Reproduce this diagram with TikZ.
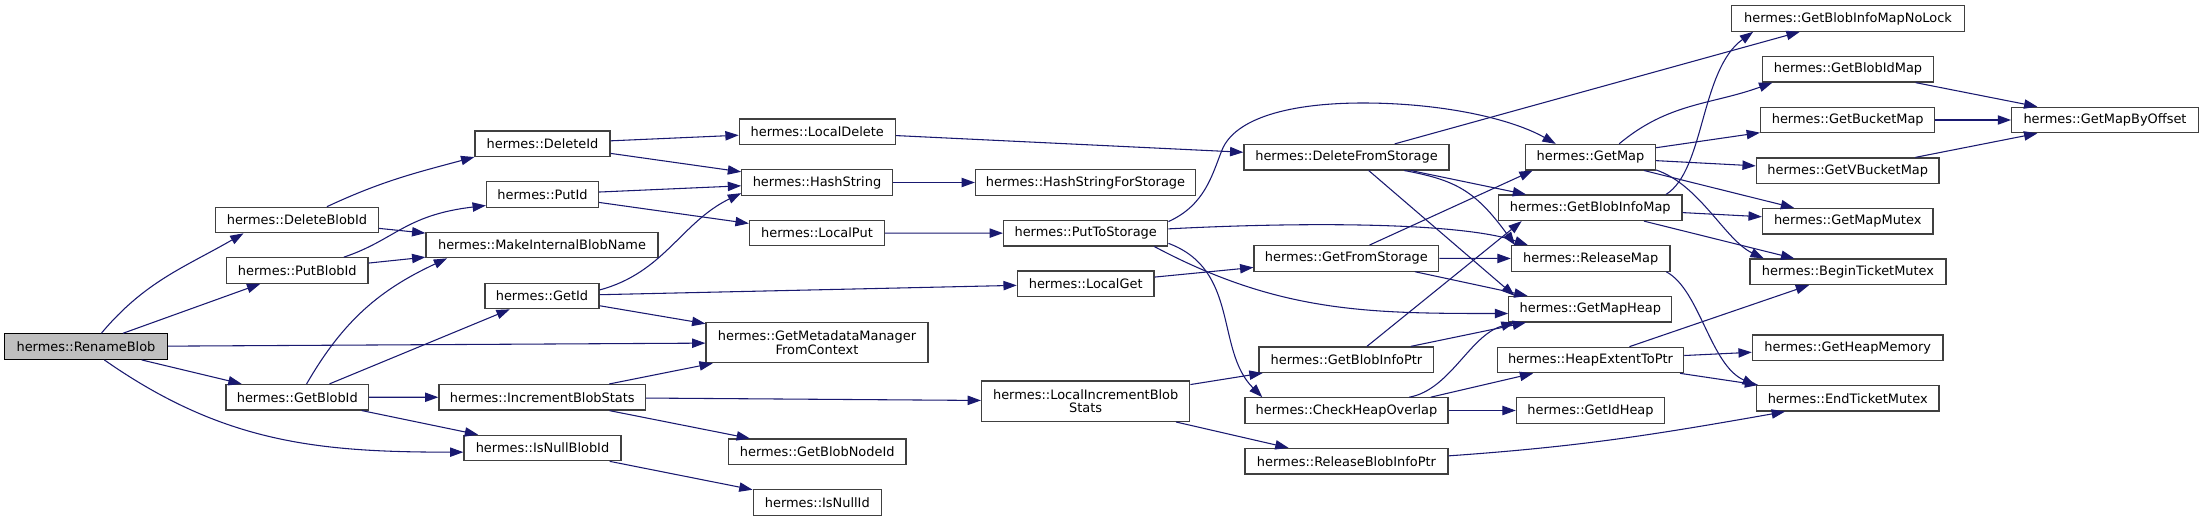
\documentclass[tikz,border=0pt]{standalone}
\usepackage{fontspec}
\setmainfont{DejaVu Sans}
\usepackage{xcolor}
\definecolor{callblue}{HTML}{191970}
\definecolor{rootgray}{HTML}{BFBFBF}
\definecolor{boxline}{HTML}{404040}
\usepackage{tikz}
\usetikzlibrary{arrows.meta}

\begin{document}
\begin{tikzpicture}[
  x=0.75pt, y=0.75pt,
  font=\fontsize{9.7pt}{10.3pt}\selectfont,
  fn/.style={draw=boxline, line width=0.9pt, fill=white, align=center, inner xsep=3pt, inner ysep=0pt, minimum height=19.1pt},
  root/.style={fn, draw=black, fill=rootgray},
  arr/.style={-{Triangle[length=10pt, width=7pt]}, line width=0.8pt, color=callblue},
]
  \path[use as bounding box, fill=white] (0,0) rectangle (2204,-521);

  \node[root, minimum width=122.3pt] (RenameBlob) at (86,-346.6) {hermes::RenameBlob};
  \node[fn, minimum width=122.1pt] (DeleteBlobId) at (297,-220) {hermes::DeleteBlobId};
  \node[fn, minimum width=106.1pt] (PutBlobId) at (297.3,-270.5) {hermes::PutBlobId};
  \node[fn, minimum width=107pt] (GetBlobId) at (297.3,-397.2) {hermes::GetBlobId};
  \node[fn, minimum width=101.3pt] (DeleteId) at (542.5,-143.8) {hermes::DeleteId};
  \node[fn, minimum width=84pt] (PutId) at (542.5,-194.5) {hermes::PutId};
  \node[fn, minimum width=174pt] (MakeInternalBlobName) at (542,-245) {hermes::MakeInternalBlobName};
  \node[fn, minimum width=85.5pt] (GetId) at (542,-296) {hermes::GetId};
  \node[fn, minimum width=155pt] (IncrementBlobStats) at (542.3,-397.3) {hermes::IncrementBlobStats};
  \node[fn, minimum width=117.8pt] (IsNullBlobId) at (542.5,-448) {hermes::IsNullBlobId};
  \node[fn, minimum width=117pt] (LocalDelete) at (817.3,-131.8) {hermes::LocalDelete};
  \node[fn, minimum width=112.9pt] (HashString) at (817,-182.5) {hermes::HashString};
  \node[fn, minimum width=101.4pt] (LocalPut) at (817,-233) {hermes::LocalPut};
  \node[fn, minimum width=166.5pt, minimum height=30.3pt] (GetMetadataManager) at (817,-342.5) {hermes::GetMetadataManager\\FromContext};
  \node[fn, minimum width=133.3pt] (GetBlobNodeId) at (817.2,-451.8) {hermes::GetBlobNodeId};
  \node[fn, minimum width=96.2pt] (IsNullId) at (817.3,-502.5) {hermes::IsNullId};
  \node[fn, minimum width=165pt] (HashStringForStorage) at (1085.5,-182.5) {hermes::HashStringForStorage};
  \node[fn, minimum width=123.2pt] (PutToStorage) at (1085.7,-233.2) {hermes::PutToStorage};
  \node[fn, minimum width=102.5pt] (LocalGet) at (1085.7,-283.8) {hermes::LocalGet};
  \node[fn, minimum width=156.2pt, minimum height=30.3pt] (LocalIncrementBlobStats) at (1085.7,-401.2) {hermes::LocalIncrementBlob\\Stats};
  \node[fn, minimum width=153.8pt] (DeleteFromStorage) at (1346.5,-157.2) {hermes::DeleteFromStorage};
  \node[fn, minimum width=138.6pt] (GetFromStorage) at (1346.4,-258.4) {hermes::GetFromStorage};
  \node[fn, minimum width=131pt] (GetBlobInfoPtr) at (1346.4,-359.7) {hermes::GetBlobInfoPtr};
  \node[fn, minimum width=152.3pt] (CheckHeapOverlap) at (1346.5,-410.5) {hermes::CheckHeapOverlap};
  \node[fn, minimum width=152.3pt] (ReleaseBlobInfoPtr) at (1346.5,-461.2) {hermes::ReleaseBlobInfoPtr};
  \node[fn, minimum width=97.5pt] (GetMap) at (1590.5,-157.2) {hermes::GetMap};
  \node[fn, minimum width=137.6pt] (GetBlobInfoMap) at (1590.3,-207.8) {hermes::GetBlobInfoMap};
  \node[fn, minimum width=119pt] (ReleaseMap) at (1590.7,-258.5) {hermes::ReleaseMap};
  \node[fn, minimum width=122.3pt] (GetMapHeap) at (1590.3,-309.2) {hermes::GetMapHeap};
  \node[fn, minimum width=139.7pt] (HeapExtentToPtr) at (1590.5,-360) {hermes::HeapExtentToPtr};
  \node[fn, minimum width=111.2pt] (GetIdHeap) at (1590.5,-410.5) {hermes::GetIdHeap};
  \node[fn, minimum width=174.2pt] (GetBlobInfoMapNoLock) at (1848,-18.5) {hermes::GetBlobInfoMapNoLock};
  \node[fn, minimum width=128.1pt] (GetBlobIdMap) at (1848,-69.3) {hermes::GetBlobIdMap};
  \node[fn, minimum width=130.7pt] (GetBucketMap) at (1847.7,-120) {hermes::GetBucketMap};
  \node[fn, minimum width=137pt] (GetVBucketMap) at (1847.7,-170.7) {hermes::GetVBucketMap};
  \node[fn, minimum width=127.9pt] (GetMapMutex) at (1847.7,-221.2) {hermes::GetMapMutex};
  \node[fn, minimum width=147pt] (BeginTicketMutex) at (1848,-271.8) {hermes::BeginTicketMutex};
  \node[fn, minimum width=143pt] (GetHeapMemory) at (1847.7,-347.7) {hermes::GetHeapMemory};
  \node[fn, minimum width=137pt] (EndTicketMutex) at (1847.7,-398.3) {hermes::EndTicketMutex};
  \node[fn, minimum width=140pt] (GetMapByOffset) at (2105,-120) {hermes::GetMapByOffset};

  \draw[arr] (RenameBlob.41) to[out=50,in=210] (DeleteBlobId.194);
  \draw[arr] (RenameBlob) -- (PutBlobId);
  \draw[arr] (RenameBlob) -- (GetMetadataManager);
  \draw[arr] (RenameBlob) -- (GetBlobId);
  \draw[arr] (RenameBlob.324) to[out=-35,in=180] (IsNullBlobId.183);

  \draw[arr] (DeleteBlobId.24) to[out=25,in=195] (DeleteId.191);
  \draw[arr] (DeleteBlobId) -- (MakeInternalBlobName);
  \draw[arr] (PutBlobId.16) .. controls (395,-240) and (405,-215) .. (PutId.191);
  \draw[arr] (PutBlobId) -- (MakeInternalBlobName);
  \draw[arr] (GetBlobId.55) to[out=60,in=205] (MakeInternalBlobName.188);
  \draw[arr] (GetBlobId) -- (GetId);
  \draw[arr] (GetBlobId) -- (IncrementBlobStats);
  \draw[arr] (GetBlobId) -- (IsNullBlobId);

  \draw[arr] (DeleteId) -- (LocalDelete);
  \draw[arr] (DeleteId) -- (HashString);
  \draw[arr] (PutId) -- (HashString);
  \draw[arr] (PutId) -- (LocalPut);
  \draw[arr] (GetId.6) to[out=15,in=206] (HashString.188);
  \draw[arr] (GetId) -- (LocalGet);
  \draw[arr] (GetId) -- (GetMetadataManager);
  \draw[arr] (IncrementBlobStats) -- (GetMetadataManager);
  \draw[arr] (IncrementBlobStats) -- (LocalIncrementBlobStats);
  \draw[arr] (IncrementBlobStats) -- (GetBlobNodeId);
  \draw[arr] (IsNullBlobId) -- (IsNullId);

  \draw[arr] (LocalDelete) -- (DeleteFromStorage);
  \draw[arr] (HashString) -- (HashStringForStorage);
  \draw[arr] (LocalPut) -- (PutToStorage);

  \draw[arr] (PutToStorage.8) .. controls (1205,-205) and (1212,-175) .. (1222,-150)
    .. controls (1235,-118) and (1290,-103) .. (1363,-103)
    .. controls (1440,-103) and (1510,-118) .. (GetMap.159);
  \draw[arr] (PutToStorage.3) .. controls (1300,-222) and (1460,-222) .. (ReleaseMap.168);
  \draw[arr] (PutToStorage.349) to[out=-28,in=180] (GetMapHeap.183);
  \draw[arr] (PutToStorage.353) .. controls (1240,-270) and (1215,-350) .. (CheckHeapOverlap.171);
  \draw[arr] (LocalGet) -- (GetFromStorage);
  \draw[arr] (LocalIncrementBlobStats) -- (GetBlobInfoPtr);
  \draw[arr] (LocalIncrementBlobStats) -- (ReleaseBlobInfoPtr);

  \draw[arr] (DeleteFromStorage) -- (GetBlobInfoMapNoLock);
  \draw[arr] (DeleteFromStorage) -- (GetBlobInfoMap);
  \draw[arr] (DeleteFromStorage.347) .. controls (1455,-180) and (1475,-190) .. (ReleaseMap.170);
  \draw[arr] (DeleteFromStorage.329) -- (GetMapHeap.170);
  \draw[arr] (GetFromStorage.30) -- (GetMap.193);
  \draw[arr] (GetFromStorage) -- (ReleaseMap);
  \draw[arr] (GetFromStorage.349) -- (GetMapHeap.168);
  \draw[arr] (GetBlobInfoPtr.33) -- (GetBlobInfoMap.191);
  \draw[arr] (GetBlobInfoPtr) -- (GetMapHeap);
  \draw[arr] (CheckHeapOverlap.12) .. controls (1450,-390) and (1470,-335) .. (GetMapHeap.190);
  \draw[arr] (CheckHeapOverlap.9) -- (HeapExtentToPtr);
  \draw[arr] (CheckHeapOverlap) -- (GetIdHeap);
  \draw[arr] (ReleaseBlobInfoPtr.3) to[out=4,in=190] (EndTicketMutex.192);

  \draw[arr] (GetMap.25) to[out=40,in=200] (GetBlobIdMap.190);
  \draw[arr] (GetMap) -- (GetBucketMap);
  \draw[arr] (GetMap) -- (GetVBucketMap);
  \draw[arr] (GetMap) -- (GetMapMutex);
  \draw[arr] (GetMap.349) .. controls (1700,-185) and (1725,-240) .. (BeginTicketMutex.171);
  \draw[arr] (GetBlobInfoMap.10) .. controls (1705,-170) and (1700,-70) .. (GetBlobInfoMapNoLock.188);
  \draw[arr] (GetBlobInfoMap) -- (GetMapMutex);
  \draw[arr] (GetBlobInfoMap) -- (BeginTicketMutex);
  \draw[arr] (ReleaseMap.350) .. controls (1700,-290) and (1710,-365) .. (EndTicketMutex.172);
  \draw[arr] (HeapExtentToPtr) -- (BeginTicketMutex);
  \draw[arr] (HeapExtentToPtr) -- (GetHeapMemory);
  \draw[arr] (HeapExtentToPtr) -- (EndTicketMutex);

  \draw[arr] (GetBlobIdMap) -- (GetMapByOffset);
  \draw[arr] (GetBucketMap) -- (GetMapByOffset);
  \draw[arr] (GetVBucketMap) -- (GetMapByOffset);
\end{tikzpicture}
\end{document}
